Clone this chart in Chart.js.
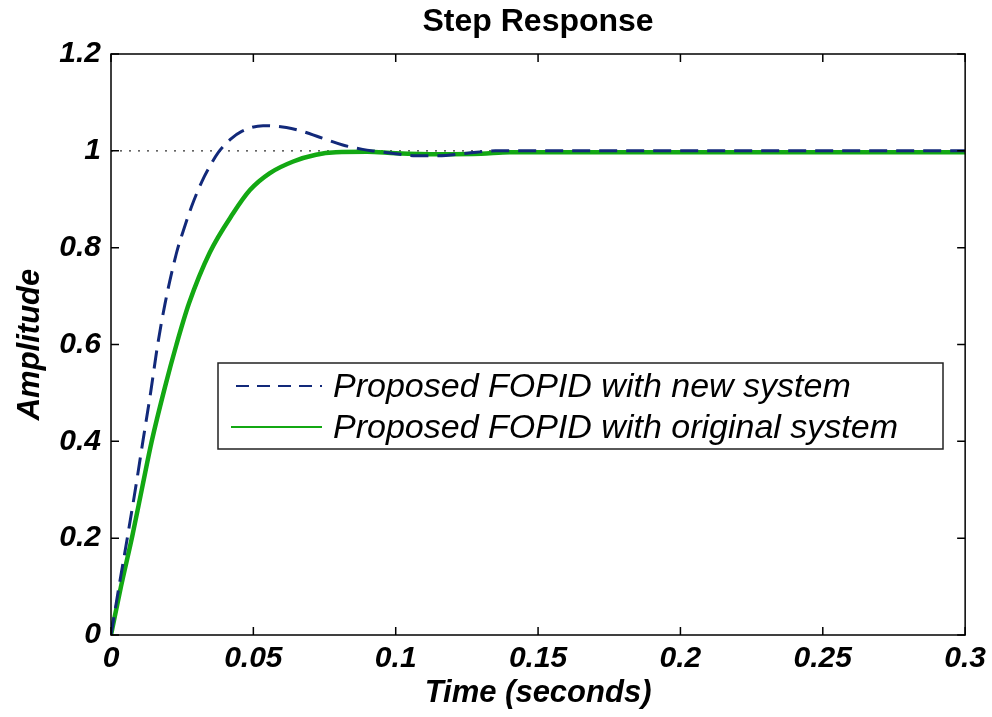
<!DOCTYPE html>
<html>
<head>
<meta charset="utf-8">
<title>Step Response</title>
<script src="https://cdn.jsdelivr.net/npm/chart.js@4.4.1/dist/chart.umd.min.js"></script>
<style>
    html, body { margin: 0; padding: 0; background: #fff; }
    #wrap { width: 992px; height: 717px; }
</style>
</head>
<body>
<div id="wrap"><canvas id="stepChart" width="992" height="717"></canvas></div>
<script>
// values
const xTicks = [0, 0.05, 0.1, 0.15, 0.2, 0.25, 0.3];
const yTicks = [0, 0.2, 0.4, 0.6, 0.8, 1, 1.2];

const tNew   = [0, 0.0028, 0.0058, 0.0087, 0.0112, 0.0139, 0.0164, 0.019, 0.023, 0.0254, 0.0283, 0.0318, 0.0347, 0.0377, 0.0418, 0.0459, 0.0534, 0.0616, 0.0662, 0.0733, 0.0814, 0.0884, 0.0932, 0.1, 0.107, 0.115, 0.125, 0.135, 0.15, 0.2, 0.3];
const ampNew = [0, 0.1, 0.203, 0.306, 0.4, 0.5, 0.6, 0.685, 0.789, 0.835, 0.885, 0.935, 0.968, 0.997, 1.023, 1.04, 1.052, 1.048, 1.042, 1.028, 1.012, 1.003, 0.999, 0.994, 0.99, 0.99, 0.995, 1.0, 1.0, 1.0, 1.0];

const tOrig   = [0, 0.0035, 0.0075, 0.011, 0.0143, 0.019, 0.023, 0.0274, 0.0347, 0.0429, 0.0488, 0.0558, 0.064, 0.072, 0.079, 0.09, 0.1, 0.115, 0.13, 0.14, 0.2, 0.3];
const ampOrig = [0, 0.1, 0.205, 0.306, 0.4, 0.513, 0.6, 0.685, 0.79, 0.871, 0.919, 0.954, 0.978, 0.992, 0.997, 0.998, 0.995, 0.993, 0.994, 0.997, 0.997, 0.997];

const labelNew = 'Proposed FOPID with new system';
const labelOrig = 'Proposed FOPID with original system';

const fmt = v => String(Math.round(v * 100) / 100);

// inward tick marks, box, dotted reference line and the boxed legend
const matlabFrame = {
    id: 'matlabFrame',
    beforeDatasetsDraw(chart) {
        const {ctx, chartArea: a, scales: {y}} = chart;
        const py = y.getPixelForValue(1);
        ctx.save();
        ctx.strokeStyle = '#333';
        ctx.lineWidth = 1.2;
        ctx.setLineDash([2, 7]);
        ctx.beginPath();
        ctx.moveTo(a.left, py);
        ctx.lineTo(a.right, py);
        ctx.stroke();
        ctx.restore();
    },
    afterDraw(chart) {
        const {ctx, chartArea: a, scales: {x, y}} = chart;
        const len = 8;
        ctx.save();
        ctx.strokeStyle = '#000';
        ctx.lineWidth = 1.5;
        ctx.beginPath();
        xTicks.forEach(v => {
            const px = x.getPixelForValue(v);
            ctx.moveTo(px, a.bottom); ctx.lineTo(px, a.bottom - len);
            ctx.moveTo(px, a.top); ctx.lineTo(px, a.top + len);
        });
        yTicks.forEach(v => {
            const py = y.getPixelForValue(v);
            ctx.moveTo(a.left, py); ctx.lineTo(a.left + len, py);
            ctx.moveTo(a.right, py); ctx.lineTo(a.right - len, py);
        });
        ctx.stroke();
        ctx.strokeRect(a.left, a.top, a.right - a.left, a.bottom - a.top);

        // legend
        const box = {left: 218, top: 363, width: 725, height: 86};
        ctx.fillStyle = '#fff';
        ctx.fillRect(box.left, box.top, box.width, box.height);
        ctx.strokeStyle = '#222';
        ctx.lineWidth = 1.5;
        ctx.strokeRect(box.left, box.top, box.width, box.height);

        chart.data.datasets.forEach((ds, i) => {
            const yy = box.top + 23 + i * 41;
            const dashed = ds.borderDash.length > 0;
            ctx.save();
            ctx.strokeStyle = ds.borderColor;
            ctx.lineWidth = 2.2;
            ctx.setLineDash(dashed ? [13, 8] : []);
            ctx.beginPath();
            ctx.moveTo(box.left + (dashed ? 18 : 13), yy);
            ctx.lineTo(box.left + 104, yy);
            ctx.stroke();
            ctx.restore();
            ctx.fillStyle = '#000';
            ctx.font = 'italic 34px "Liberation Sans", Arial, sans-serif';
            ctx.textBaseline = 'middle';
            ctx.textAlign = 'left';
            ctx.fillText(ds.label, box.left + 115, yy + 2);
        });
        ctx.restore();
    }
};

const tickFont = {family: '"Liberation Sans", Arial, sans-serif', size: 30, style: 'italic', weight: 'bold'};
const titleFont = {family: '"Liberation Sans", Arial, sans-serif', size: 31, style: 'italic', weight: 'bold'};

const ctx = document.getElementById('stepChart').getContext('2d');
const stepChart = new Chart(ctx, {
    type: 'line',
    data: {
        datasets: [
            {
                label: labelNew,
                data: tNew.map((t, i) => ({x: t, y: ampNew[i]})),
                borderColor: '#12297a',
                borderWidth: 3,
                borderDash: [18, 9],
                pointRadius: 0,
                cubicInterpolationMode: 'monotone',
                fill: false
            },
            {
                label: labelOrig,
                data: tOrig.map((t, i) => ({x: t, y: ampOrig[i]})),
                borderColor: '#13a813',
                borderWidth: 4.5,
                borderDash: [],
                pointRadius: 0,
                cubicInterpolationMode: 'monotone',
                fill: false
            }
        ]
    },
    options: {
        responsive: false,
        animation: false,
        layout: {
            padding: {left: 0, right: 26, top: 0, bottom: 0}
        },
        plugins: {
            legend: {display: false},
            tooltip: {enabled: false},
            title: {
                display: true,
                fullSize: false,
                text: 'Step Response',
                color: '#000',
                font: {family: '"Liberation Sans", Arial, sans-serif', size: 32, weight: 'bold'},
                padding: {top: 3, bottom: 12.6}
            }
        },
        scales: {
            x: {
                type: 'linear',
                min: 0,
                max: 0.3,
                grid: {display: false, drawTicks: false},
                border: {display: false},
                afterBuildTicks: scale => { scale.ticks = xTicks.map(v => ({value: v})); },
                afterFit: scale => { scale.height = 82; },
                ticks: {
                    color: '#000',
                    font: tickFont,
                    padding: 6,
                    maxRotation: 0,
                    callback: v => fmt(v)
                },
                title: {
                    display: true,
                    text: 'Time (seconds)',
                    color: '#000',
                    font: titleFont,
                    padding: {top: 0, bottom: 5}
                }
            },
            y: {
                min: 0,
                max: 1.2,
                grid: {display: false, drawTicks: false},
                border: {display: false},
                afterBuildTicks: scale => { scale.ticks = yTicks.map(v => ({value: v})); },
                afterFit: scale => { scale.width = 111; },
                ticks: {
                    color: '#000',
                    font: tickFont,
                    padding: 10,
                    callback: v => fmt(v)
                },
                title: {
                    display: true,
                    text: 'Amplitude',
                    color: '#000',
                    font: titleFont,
                    padding: {top: 12, bottom: 0}
                }
            }
        }
    },
    plugins: [matlabFrame]
});
</script>
</body>
</html>
